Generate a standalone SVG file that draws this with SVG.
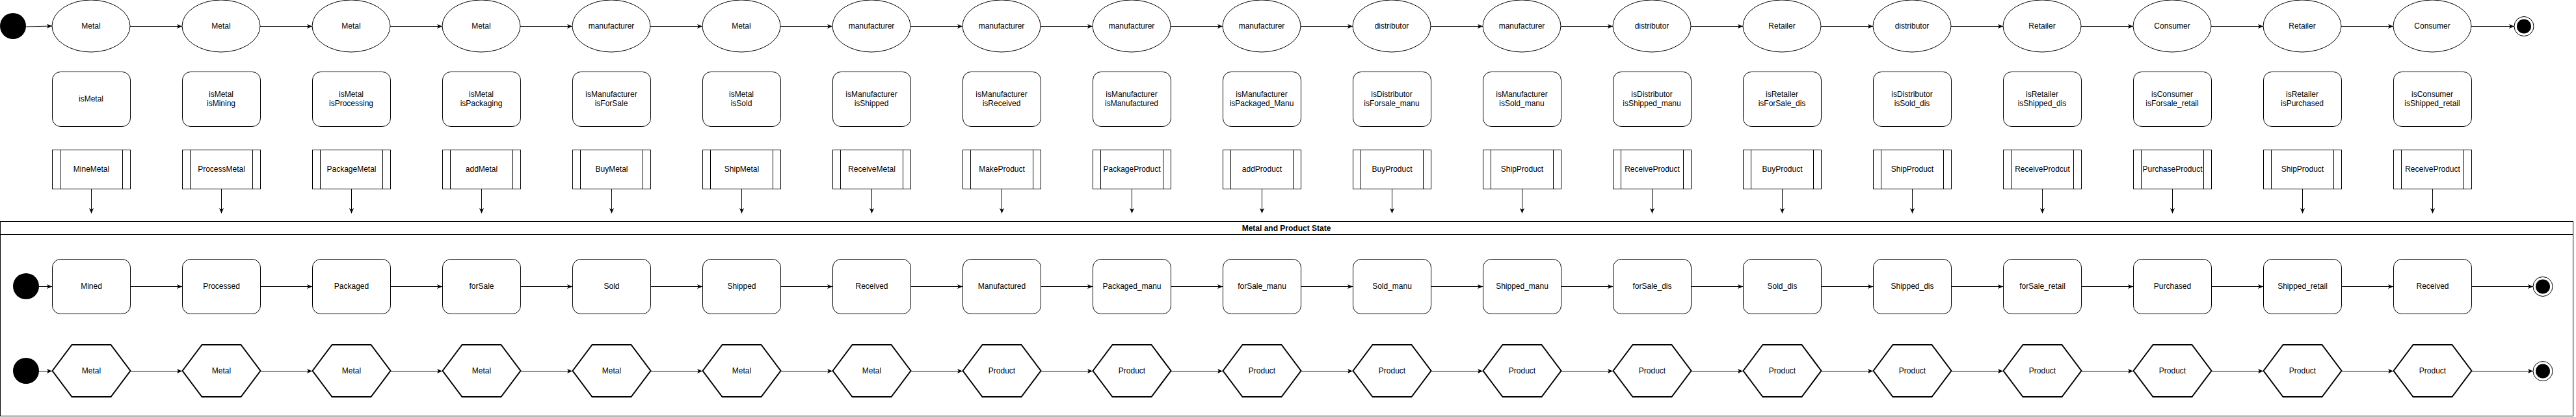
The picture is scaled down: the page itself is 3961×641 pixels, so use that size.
<svg xmlns="http://www.w3.org/2000/svg" xmlns:xlink="http://www.w3.org/1999/xlink" width="3961" height="641" viewBox="0 0 3961 641">
<style>
.sh{fill:#fff;stroke:#000;stroke-width:1}
.hx{fill:#fff;stroke:#000;stroke-width:2;stroke-linejoin:miter}
.t{font-family:"Liberation Sans",Arial,sans-serif;font-size:12px;fill:#000;text-anchor:middle}
.b{font-weight:bold}
.c{fill:none;stroke:#000;stroke-width:1}
.start{fill:#000;stroke:none}
.endo{fill:#fff;stroke:#000;stroke-width:1}
.endi{fill:#000;stroke:none}
</style>
<defs>
<marker id="arr" markerUnits="userSpaceOnUse" markerWidth="9" markerHeight="8" refX="8" refY="3.5" orient="auto">
<path d="M0,0 L8,3.5 L0,7 L2,3.5 Z" fill="#000"/>
</marker>
<ellipse id="ell" cx="60" cy="40" rx="60" ry="40" class="sh"/>
<rect id="cond" x="0.5" y="0.5" width="120" height="84" rx="12.6" ry="12.6" class="sh"/>
<g id="proc"><rect x="0.5" y="0.5" width="120" height="60" class="sh"/><line x1="12.5" y1="0.5" x2="12.5" y2="60.5" stroke="#000"/><line x1="108.5" y1="0.5" x2="108.5" y2="60.5" stroke="#000"/></g>
<polygon id="hex" points="0,40 30,0 90,0 120,40 90,80 30,80" class="hx"/>
</defs>
<rect width="3961" height="641" fill="#fff"/>

<g id="container">
<rect x="0.5" y="340.5" width="3956" height="299" fill="#fff" stroke="#000"/>
<line x1="0.5" y1="360.5" x2="3956.5" y2="360.5" stroke="#000"/>
<text class="t b" x="1978" y="355">Metal and Product State</text>
</g>

<g id="connectors">
<line class="c" x1="40" y1="41" x2="80" y2="40" marker-end="url(#arr)"/>
<line class="c" x1="200" y1="40.5" x2="280" y2="40.5" marker-end="url(#arr)"/>
<line class="c" x1="400" y1="40.5" x2="480" y2="40.5" marker-end="url(#arr)"/>
<line class="c" x1="600" y1="40.5" x2="680" y2="40.5" marker-end="url(#arr)"/>
<line class="c" x1="800" y1="40.5" x2="880" y2="40.5" marker-end="url(#arr)"/>
<line class="c" x1="1000" y1="40.5" x2="1080" y2="40.5" marker-end="url(#arr)"/>
<line class="c" x1="1200" y1="40.5" x2="1280" y2="40.5" marker-end="url(#arr)"/>
<line class="c" x1="1400" y1="40.5" x2="1480" y2="40.5" marker-end="url(#arr)"/>
<line class="c" x1="1600" y1="40.5" x2="1680" y2="40.5" marker-end="url(#arr)"/>
<line class="c" x1="1800" y1="40.5" x2="1880" y2="40.5" marker-end="url(#arr)"/>
<line class="c" x1="2000" y1="40.5" x2="2080" y2="40.5" marker-end="url(#arr)"/>
<line class="c" x1="2200" y1="40.5" x2="2280" y2="40.5" marker-end="url(#arr)"/>
<line class="c" x1="2400" y1="40.5" x2="2480" y2="40.5" marker-end="url(#arr)"/>
<line class="c" x1="2600" y1="40.5" x2="2680" y2="40.5" marker-end="url(#arr)"/>
<line class="c" x1="2800" y1="40.5" x2="2880" y2="40.5" marker-end="url(#arr)"/>
<line class="c" x1="3000" y1="40.5" x2="3080" y2="40.5" marker-end="url(#arr)"/>
<line class="c" x1="3200" y1="40.5" x2="3280" y2="40.5" marker-end="url(#arr)"/>
<line class="c" x1="3400" y1="40.5" x2="3480" y2="40.5" marker-end="url(#arr)"/>
<line class="c" x1="3600" y1="40.5" x2="3680" y2="40.5" marker-end="url(#arr)"/>
<line class="c" x1="3800" y1="40.5" x2="3866" y2="40.5" marker-end="url(#arr)"/>

<line class="c" x1="140.5" y1="291" x2="140.5" y2="328" marker-end="url(#arr)"/>
<line class="c" x1="340.5" y1="291" x2="340.5" y2="328" marker-end="url(#arr)"/>
<line class="c" x1="540.5" y1="291" x2="540.5" y2="328" marker-end="url(#arr)"/>
<line class="c" x1="740.5" y1="291" x2="740.5" y2="328" marker-end="url(#arr)"/>
<line class="c" x1="940.5" y1="291" x2="940.5" y2="328" marker-end="url(#arr)"/>
<line class="c" x1="1140.5" y1="291" x2="1140.5" y2="328" marker-end="url(#arr)"/>
<line class="c" x1="1340.5" y1="291" x2="1340.5" y2="328" marker-end="url(#arr)"/>
<line class="c" x1="1540.5" y1="291" x2="1540.5" y2="328" marker-end="url(#arr)"/>
<line class="c" x1="1740.5" y1="291" x2="1740.5" y2="328" marker-end="url(#arr)"/>
<line class="c" x1="1940.5" y1="291" x2="1940.5" y2="328" marker-end="url(#arr)"/>
<line class="c" x1="2140.5" y1="291" x2="2140.5" y2="328" marker-end="url(#arr)"/>
<line class="c" x1="2340.5" y1="291" x2="2340.5" y2="328" marker-end="url(#arr)"/>
<line class="c" x1="2540.5" y1="291" x2="2540.5" y2="328" marker-end="url(#arr)"/>
<line class="c" x1="2740.5" y1="291" x2="2740.5" y2="328" marker-end="url(#arr)"/>
<line class="c" x1="2940.5" y1="291" x2="2940.5" y2="328" marker-end="url(#arr)"/>
<line class="c" x1="3140.5" y1="291" x2="3140.5" y2="328" marker-end="url(#arr)"/>
<line class="c" x1="3340.5" y1="291" x2="3340.5" y2="328" marker-end="url(#arr)"/>
<line class="c" x1="3540.5" y1="291" x2="3540.5" y2="328" marker-end="url(#arr)"/>
<line class="c" x1="3740.5" y1="291" x2="3740.5" y2="328" marker-end="url(#arr)"/>

<line class="c" x1="60" y1="440.5" x2="80" y2="440.5" marker-end="url(#arr)"/>
<line class="c" x1="201" y1="440.5" x2="280" y2="440.5" marker-end="url(#arr)"/>
<line class="c" x1="401" y1="440.5" x2="480" y2="440.5" marker-end="url(#arr)"/>
<line class="c" x1="601" y1="440.5" x2="680" y2="440.5" marker-end="url(#arr)"/>
<line class="c" x1="801" y1="440.5" x2="880" y2="440.5" marker-end="url(#arr)"/>
<line class="c" x1="1001" y1="440.5" x2="1080" y2="440.5" marker-end="url(#arr)"/>
<line class="c" x1="1201" y1="440.5" x2="1280" y2="440.5" marker-end="url(#arr)"/>
<line class="c" x1="1401" y1="440.5" x2="1480" y2="440.5" marker-end="url(#arr)"/>
<line class="c" x1="1601" y1="440.5" x2="1680" y2="440.5" marker-end="url(#arr)"/>
<line class="c" x1="1801" y1="440.5" x2="1880" y2="440.5" marker-end="url(#arr)"/>
<line class="c" x1="2001" y1="440.5" x2="2080" y2="440.5" marker-end="url(#arr)"/>
<line class="c" x1="2201" y1="440.5" x2="2280" y2="440.5" marker-end="url(#arr)"/>
<line class="c" x1="2401" y1="440.5" x2="2480" y2="440.5" marker-end="url(#arr)"/>
<line class="c" x1="2601" y1="440.5" x2="2680" y2="440.5" marker-end="url(#arr)"/>
<line class="c" x1="2801" y1="440.5" x2="2880" y2="440.5" marker-end="url(#arr)"/>
<line class="c" x1="3001" y1="440.5" x2="3080" y2="440.5" marker-end="url(#arr)"/>
<line class="c" x1="3201" y1="440.5" x2="3280" y2="440.5" marker-end="url(#arr)"/>
<line class="c" x1="3401" y1="440.5" x2="3480" y2="440.5" marker-end="url(#arr)"/>
<line class="c" x1="3601" y1="440.5" x2="3680" y2="440.5" marker-end="url(#arr)"/>
<line class="c" x1="3801" y1="440.5" x2="3895" y2="440.5" marker-end="url(#arr)"/>

<line class="c" x1="60" y1="570.5" x2="80" y2="570.5" marker-end="url(#arr)"/>
<line class="c" x1="201" y1="570.5" x2="280" y2="570.5" marker-end="url(#arr)"/>
<line class="c" x1="401" y1="570.5" x2="480" y2="570.5" marker-end="url(#arr)"/>
<line class="c" x1="601" y1="570.5" x2="680" y2="570.5" marker-end="url(#arr)"/>
<line class="c" x1="801" y1="570.5" x2="880" y2="570.5" marker-end="url(#arr)"/>
<line class="c" x1="1001" y1="570.5" x2="1080" y2="570.5" marker-end="url(#arr)"/>
<line class="c" x1="1201" y1="570.5" x2="1280" y2="570.5" marker-end="url(#arr)"/>
<line class="c" x1="1401" y1="570.5" x2="1480" y2="570.5" marker-end="url(#arr)"/>
<line class="c" x1="1601" y1="570.5" x2="1680" y2="570.5" marker-end="url(#arr)"/>
<line class="c" x1="1801" y1="570.5" x2="1880" y2="570.5" marker-end="url(#arr)"/>
<line class="c" x1="2001" y1="570.5" x2="2080" y2="570.5" marker-end="url(#arr)"/>
<line class="c" x1="2201" y1="570.5" x2="2280" y2="570.5" marker-end="url(#arr)"/>
<line class="c" x1="2401" y1="570.5" x2="2480" y2="570.5" marker-end="url(#arr)"/>
<line class="c" x1="2601" y1="570.5" x2="2680" y2="570.5" marker-end="url(#arr)"/>
<line class="c" x1="2801" y1="570.5" x2="2880" y2="570.5" marker-end="url(#arr)"/>
<line class="c" x1="3001" y1="570.5" x2="3080" y2="570.5" marker-end="url(#arr)"/>
<line class="c" x1="3201" y1="570.5" x2="3280" y2="570.5" marker-end="url(#arr)"/>
<line class="c" x1="3401" y1="570.5" x2="3480" y2="570.5" marker-end="url(#arr)"/>
<line class="c" x1="3601" y1="570.5" x2="3680" y2="570.5" marker-end="url(#arr)"/>
<line class="c" x1="3801" y1="570.5" x2="3895" y2="570.5" marker-end="url(#arr)"/>
</g>

<g id="start-top"><circle class="start" cx="20" cy="40" r="20"/></g>
<g id="end-top"><circle class="endo" cx="3881" cy="40.5" r="15"/><circle class="endi" cx="3881" cy="40.5" r="11"/></g>
<g id="start-state"><circle class="start" cx="40" cy="440" r="20"/></g>
<g id="end-state"><circle class="endo" cx="3910" cy="440.5" r="15"/><circle class="endi" cx="3910" cy="440.5" r="11"/></g>
<g id="start-item"><circle class="start" cx="40" cy="570" r="20"/></g>
<g id="end-item"><circle class="endo" cx="3910" cy="570.5" r="15"/><circle class="endi" cx="3910" cy="570.5" r="11"/></g>

<!-- Role ellipses -->
<g id="role-0"><use href="#ell" x="80" y="0"/><text class="t" x="140" y="44">Metal</text></g>
<g id="role-1"><use href="#ell" x="280" y="0"/><text class="t" x="340" y="44">Metal</text></g>
<g id="role-2"><use href="#ell" x="480" y="0"/><text class="t" x="540" y="44">Metal</text></g>
<g id="role-3"><use href="#ell" x="680" y="0"/><text class="t" x="740" y="44">Metal</text></g>
<g id="role-4"><use href="#ell" x="880" y="0"/><text class="t" x="940" y="44">manufacturer</text></g>
<g id="role-5"><use href="#ell" x="1080" y="0"/><text class="t" x="1140" y="44">Metal</text></g>
<g id="role-6"><use href="#ell" x="1280" y="0"/><text class="t" x="1340" y="44">manufacturer</text></g>
<g id="role-7"><use href="#ell" x="1480" y="0"/><text class="t" x="1540" y="44">manufacturer</text></g>
<g id="role-8"><use href="#ell" x="1680" y="0"/><text class="t" x="1740" y="44">manufacturer</text></g>
<g id="role-9"><use href="#ell" x="1880" y="0"/><text class="t" x="1940" y="44">manufacturer</text></g>
<g id="role-10"><use href="#ell" x="2080" y="0"/><text class="t" x="2140" y="44">distributor</text></g>
<g id="role-11"><use href="#ell" x="2280" y="0"/><text class="t" x="2340" y="44">manufacturer</text></g>
<g id="role-12"><use href="#ell" x="2480" y="0"/><text class="t" x="2540" y="44">distributor</text></g>
<g id="role-13"><use href="#ell" x="2680" y="0"/><text class="t" x="2740" y="44">Retailer</text></g>
<g id="role-14"><use href="#ell" x="2880" y="0"/><text class="t" x="2940" y="44">distributor</text></g>
<g id="role-15"><use href="#ell" x="3080" y="0"/><text class="t" x="3140" y="44">Retailer</text></g>
<g id="role-16"><use href="#ell" x="3280" y="0"/><text class="t" x="3340" y="44">Consumer</text></g>
<g id="role-17"><use href="#ell" x="3480" y="0"/><text class="t" x="3540" y="44">Retailer</text></g>
<g id="role-18"><use href="#ell" x="3680" y="0"/><text class="t" x="3740" y="44">Consumer</text></g>

<!-- Condition boxes -->
<g id="cond-0"><use href="#cond" x="80" y="110"/><text class="t" x="140" y="155.5">isMetal</text></g>
<g id="cond-1"><use href="#cond" x="280" y="110"/><text class="t" x="340" y="148.5">isMetal</text><text class="t" x="340" y="162.5">isMining</text></g>
<g id="cond-2"><use href="#cond" x="480" y="110"/><text class="t" x="540" y="148.5">isMetal</text><text class="t" x="540" y="162.5">isProcessing</text></g>
<g id="cond-3"><use href="#cond" x="680" y="110"/><text class="t" x="740" y="148.5">isMetal</text><text class="t" x="740" y="162.5">isPackaging</text></g>
<g id="cond-4"><use href="#cond" x="880" y="110"/><text class="t" x="940" y="148.5">isManufacturer</text><text class="t" x="940" y="162.5">isForSale</text></g>
<g id="cond-5"><use href="#cond" x="1080" y="110"/><text class="t" x="1140" y="148.5">isMetal</text><text class="t" x="1140" y="162.5">isSold</text></g>
<g id="cond-6"><use href="#cond" x="1280" y="110"/><text class="t" x="1340" y="148.5">isManufacturer</text><text class="t" x="1340" y="162.5">isShipped</text></g>
<g id="cond-7"><use href="#cond" x="1480" y="110"/><text class="t" x="1540" y="148.5">isManufacturer</text><text class="t" x="1540" y="162.5">isReceived</text></g>
<g id="cond-8"><use href="#cond" x="1680" y="110"/><text class="t" x="1740" y="148.5">isManufacturer</text><text class="t" x="1740" y="162.5">isManufactured</text></g>
<g id="cond-9"><use href="#cond" x="1880" y="110"/><text class="t" x="1940" y="148.5">isManufacturer</text><text class="t" x="1940" y="162.5">isPackaged_Manu</text></g>
<g id="cond-10"><use href="#cond" x="2080" y="110"/><text class="t" x="2140" y="148.5">isDistributor</text><text class="t" x="2140" y="162.5">isForsale_manu</text></g>
<g id="cond-11"><use href="#cond" x="2280" y="110"/><text class="t" x="2340" y="148.5">isManufacturer</text><text class="t" x="2340" y="162.5">isSold_manu</text></g>
<g id="cond-12"><use href="#cond" x="2480" y="110"/><text class="t" x="2540" y="148.5">isDistributor</text><text class="t" x="2540" y="162.5">isShipped_manu</text></g>
<g id="cond-13"><use href="#cond" x="2680" y="110"/><text class="t" x="2740" y="148.5">isRetailer</text><text class="t" x="2740" y="162.5">isForSale_dis</text></g>
<g id="cond-14"><use href="#cond" x="2880" y="110"/><text class="t" x="2940" y="148.5">isDistributor</text><text class="t" x="2940" y="162.5">isSold_dis</text></g>
<g id="cond-15"><use href="#cond" x="3080" y="110"/><text class="t" x="3140" y="148.5">isRetailer</text><text class="t" x="3140" y="162.5">isShipped_dis</text></g>
<g id="cond-16"><use href="#cond" x="3280" y="110"/><text class="t" x="3340" y="148.5">isConsumer</text><text class="t" x="3340" y="162.5">isForsale_retail</text></g>
<g id="cond-17"><use href="#cond" x="3480" y="110"/><text class="t" x="3540" y="148.5">isRetailer</text><text class="t" x="3540" y="162.5">isPurchased</text></g>
<g id="cond-18"><use href="#cond" x="3680" y="110"/><text class="t" x="3740" y="148.5">isConsumer</text><text class="t" x="3740" y="162.5">isShipped_retail</text></g>

<!-- Functions -->
<g id="fn-0"><use href="#proc" x="80" y="230"/><text class="t" x="140.5" y="264">MineMetal</text></g>
<g id="fn-1"><use href="#proc" x="280" y="230"/><text class="t" x="340.5" y="264">ProcessMetal</text></g>
<g id="fn-2"><use href="#proc" x="480" y="230"/><text class="t" x="540.5" y="264">PackageMetal</text></g>
<g id="fn-3"><use href="#proc" x="680" y="230"/><text class="t" x="740.5" y="264">addMetal</text></g>
<g id="fn-4"><use href="#proc" x="880" y="230"/><text class="t" x="940.5" y="264">BuyMetal</text></g>
<g id="fn-5"><use href="#proc" x="1080" y="230"/><text class="t" x="1140.5" y="264">ShipMetal</text></g>
<g id="fn-6"><use href="#proc" x="1280" y="230"/><text class="t" x="1340.5" y="264">ReceiveMetal</text></g>
<g id="fn-7"><use href="#proc" x="1480" y="230"/><text class="t" x="1540.5" y="264">MakeProduct</text></g>
<g id="fn-8"><use href="#proc" x="1680" y="230"/><text class="t" x="1740.5" y="264">PackageProduct</text></g>
<g id="fn-9"><use href="#proc" x="1880" y="230"/><text class="t" x="1940.5" y="264">addProduct</text></g>
<g id="fn-10"><use href="#proc" x="2080" y="230"/><text class="t" x="2140.5" y="264">BuyProduct</text></g>
<g id="fn-11"><use href="#proc" x="2280" y="230"/><text class="t" x="2340.5" y="264">ShipProduct</text></g>
<g id="fn-12"><use href="#proc" x="2480" y="230"/><text class="t" x="2540.5" y="264">ReceiveProduct</text></g>
<g id="fn-13"><use href="#proc" x="2680" y="230"/><text class="t" x="2740.5" y="264">BuyProduct</text></g>
<g id="fn-14"><use href="#proc" x="2880" y="230"/><text class="t" x="2940.5" y="264">ShipProduct</text></g>
<g id="fn-15"><use href="#proc" x="3080" y="230"/><text class="t" x="3140.5" y="264">ReceiveProdcut</text></g>
<g id="fn-16"><use href="#proc" x="3280" y="230"/><text class="t" x="3340.5" y="264">PurchaseProduct</text></g>
<g id="fn-17"><use href="#proc" x="3480" y="230"/><text class="t" x="3540.5" y="264">ShipProduct</text></g>
<g id="fn-18"><use href="#proc" x="3680" y="230"/><text class="t" x="3740.5" y="264">ReceiveProduct</text></g>

<!-- States -->
<g id="state-0"><use href="#cond" x="80" y="398"/><text class="t" x="140.5" y="444">Mined</text></g>
<g id="state-1"><use href="#cond" x="280" y="398"/><text class="t" x="340.5" y="444">Processed</text></g>
<g id="state-2"><use href="#cond" x="480" y="398"/><text class="t" x="540.5" y="444">Packaged</text></g>
<g id="state-3"><use href="#cond" x="680" y="398"/><text class="t" x="740.5" y="444">forSale</text></g>
<g id="state-4"><use href="#cond" x="880" y="398"/><text class="t" x="940.5" y="444">Sold</text></g>
<g id="state-5"><use href="#cond" x="1080" y="398"/><text class="t" x="1140.5" y="444">Shipped</text></g>
<g id="state-6"><use href="#cond" x="1280" y="398"/><text class="t" x="1340.5" y="444">Received</text></g>
<g id="state-7"><use href="#cond" x="1480" y="398"/><text class="t" x="1540.5" y="444">Manufactured</text></g>
<g id="state-8"><use href="#cond" x="1680" y="398"/><text class="t" x="1740.5" y="444">Packaged_manu</text></g>
<g id="state-9"><use href="#cond" x="1880" y="398"/><text class="t" x="1940.5" y="444">forSale_manu</text></g>
<g id="state-10"><use href="#cond" x="2080" y="398"/><text class="t" x="2140.5" y="444">Sold_manu</text></g>
<g id="state-11"><use href="#cond" x="2280" y="398"/><text class="t" x="2340.5" y="444">Shipped_manu</text></g>
<g id="state-12"><use href="#cond" x="2480" y="398"/><text class="t" x="2540.5" y="444">forSale_dis</text></g>
<g id="state-13"><use href="#cond" x="2680" y="398"/><text class="t" x="2740.5" y="444">Sold_dis</text></g>
<g id="state-14"><use href="#cond" x="2880" y="398"/><text class="t" x="2940.5" y="444">Shipped_dis</text></g>
<g id="state-15"><use href="#cond" x="3080" y="398"/><text class="t" x="3140.5" y="444">forSale_retail</text></g>
<g id="state-16"><use href="#cond" x="3280" y="398"/><text class="t" x="3340.5" y="444">Purchased</text></g>
<g id="state-17"><use href="#cond" x="3480" y="398"/><text class="t" x="3540.5" y="444">Shipped_retail</text></g>
<g id="state-18"><use href="#cond" x="3680" y="398"/><text class="t" x="3740.5" y="444">Received</text></g>

<!-- Items -->
<g id="item-0"><use href="#hex" x="80.5" y="530"/><text class="t" x="140.5" y="574">Metal</text></g>
<g id="item-1"><use href="#hex" x="280.5" y="530"/><text class="t" x="340.5" y="574">Metal</text></g>
<g id="item-2"><use href="#hex" x="480.5" y="530"/><text class="t" x="540.5" y="574">Metal</text></g>
<g id="item-3"><use href="#hex" x="680.5" y="530"/><text class="t" x="740.5" y="574">Metal</text></g>
<g id="item-4"><use href="#hex" x="880.5" y="530"/><text class="t" x="940.5" y="574">Metal</text></g>
<g id="item-5"><use href="#hex" x="1080.5" y="530"/><text class="t" x="1140.5" y="574">Metal</text></g>
<g id="item-6"><use href="#hex" x="1280.5" y="530"/><text class="t" x="1340.5" y="574">Metal</text></g>
<g id="item-7"><use href="#hex" x="1480.5" y="530"/><text class="t" x="1540.5" y="574">Product</text></g>
<g id="item-8"><use href="#hex" x="1680.5" y="530"/><text class="t" x="1740.5" y="574">Product</text></g>
<g id="item-9"><use href="#hex" x="1880.5" y="530"/><text class="t" x="1940.5" y="574">Product</text></g>
<g id="item-10"><use href="#hex" x="2080.5" y="530"/><text class="t" x="2140.5" y="574">Product</text></g>
<g id="item-11"><use href="#hex" x="2280.5" y="530"/><text class="t" x="2340.5" y="574">Product</text></g>
<g id="item-12"><use href="#hex" x="2480.5" y="530"/><text class="t" x="2540.5" y="574">Product</text></g>
<g id="item-13"><use href="#hex" x="2680.5" y="530"/><text class="t" x="2740.5" y="574">Product</text></g>
<g id="item-14"><use href="#hex" x="2880.5" y="530"/><text class="t" x="2940.5" y="574">Product</text></g>
<g id="item-15"><use href="#hex" x="3080.5" y="530"/><text class="t" x="3140.5" y="574">Product</text></g>
<g id="item-16"><use href="#hex" x="3280.5" y="530"/><text class="t" x="3340.5" y="574">Product</text></g>
<g id="item-17"><use href="#hex" x="3480.5" y="530"/><text class="t" x="3540.5" y="574">Product</text></g>
<g id="item-18"><use href="#hex" x="3680.5" y="530"/><text class="t" x="3740.5" y="574">Product</text></g>
</svg>
